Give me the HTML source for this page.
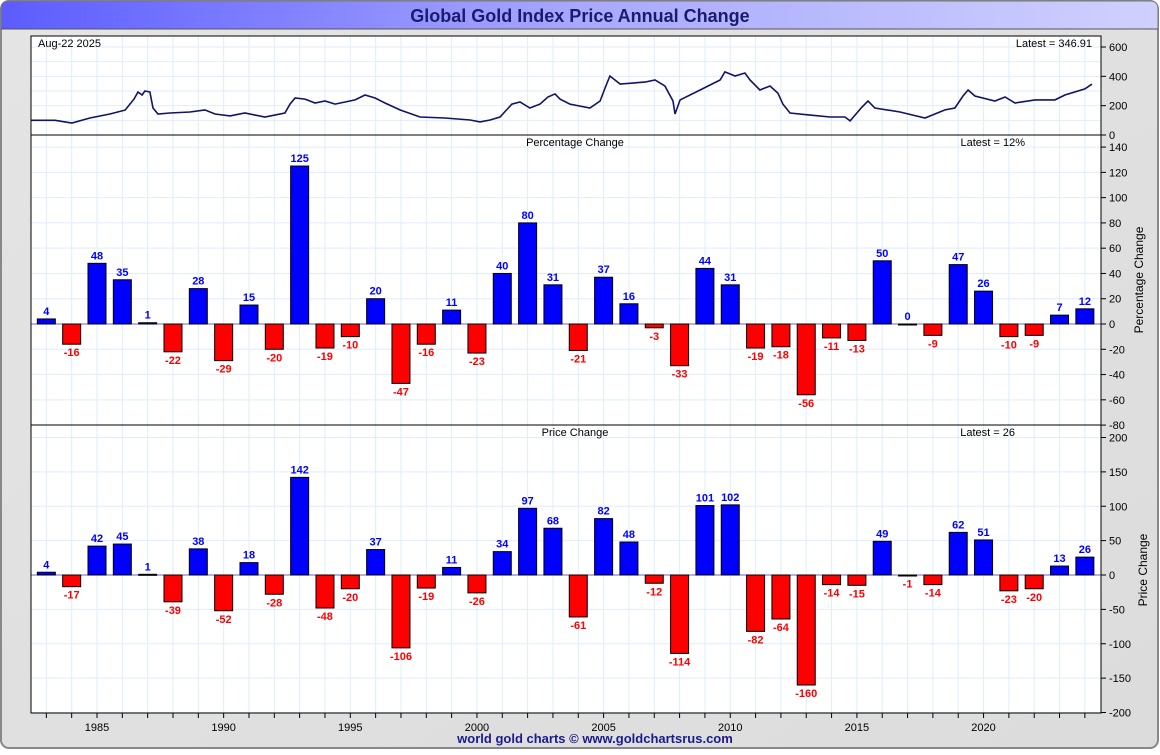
<!DOCTYPE html>
<html><head><meta charset="utf-8">
<style>
html,body{margin:0;padding:0;background:#fff;}
body{width:1160px;height:750px;overflow:hidden;font-family:"Liberation Sans",sans-serif;}
</style></head>
<body>
<svg id="chart" width="1160" height="750" xmlns="http://www.w3.org/2000/svg" font-family="Liberation Sans, sans-serif">
<defs>
<linearGradient id="tg" x1="0" x2="1" y1="0" y2="0"><stop offset="0" stop-color="#5c5cff"/><stop offset="0.5" stop-color="#a8a8ff"/><stop offset="1" stop-color="#d0d0ff"/></linearGradient>
<linearGradient id="bg" x1="0" x2="1" y1="0" y2="1"><stop offset="0" stop-color="#e4e4e4"/><stop offset="1" stop-color="#dcdcdc"/></linearGradient>
</defs>
<rect x="1" y="1" width="1157" height="747" rx="8" fill="url(#bg)" stroke="#888" stroke-width="2"/>
<path d="M1,29 V9 Q1,1 9,1 H1150 Q1158,1 1158,9 V29 Z" fill="url(#tg)" stroke="#777"/>
<line x1="1" y1="29" x2="1158" y2="29" stroke="#555"/>
<text x="580" y="22" text-anchor="middle" font-size="18" font-weight="bold" fill="#1a1a6e">Global Gold Index Price Annual Change</text>
<rect x="31" y="36" width="1070" height="677" fill="#fff"/>
<g id="g"></g>
<rect x="31" y="36" width="1070" height="677" fill="none" stroke="#000"/>
<text x="595" y="743" text-anchor="middle" font-size="13" font-weight="bold" fill="#1a1a8e">world gold charts © www.goldchartsrus.com</text>
</svg>
<script>
const years=[1983,1984,1985,1986,1987,1988,1989,1990,1991,1992,1993,1994,1995,1996,1997,1998,1999,2000,2001,2002,2003,2004,2005,2006,2007,2008,2009,2010,2011,2012,2013,2014,2015,2016,2017,2018,2019,2020,2021,2022,2023,2024];
const pctValues=[4,-16,48,35,1,-22,28,-29,15,-20,125,-19,-10,20,-47,-16,11,-23,40,80,31,-21,37,16,-3,-33,44,31,-19,-18,-56,-11,-13,50,0,-9,47,26,-10,-9,7,12];
const priceValues=[4,-17,42,45,1,-39,38,-52,18,-28,142,-48,-20,37,-106,-19,11,-26,34,97,68,-61,82,48,-12,-114,101,102,-82,-64,-160,-14,-15,49,-1,-14,62,51,-23,-20,13,26];
const xTickLabels=[1985,1990,1995,2000,2005,2010,2015,2020];
const topTicks=[0,200,400,600];
const pctTicks=[-80,-60,-40,-20,0,20,40,60,80,100,120,140];
const priceTicks=[-200,-150,-100,-50,0,50,100,150,200];
const lineDates=[1982.39,1983.34,1984.01,1984.72,1985.51,1986.11,1986.46,1986.62,1986.78,1986.89,1987.09,1987.21,1987.41,1987.88,1988.67,1989.26,1989.66,1990.25,1990.84,1991.63,1992.42,1992.62,1992.82,1993.21,1993.61,1994.0,1994.4,1995.19,1995.58,1995.98,1996.37,1996.96,1997.75,1998.74,1999.73,2000.12,2000.52,2000.91,2001.38,2001.70,2002.09,2002.49,2002.8,2003.08,2003.28,2003.67,2004.46,2004.86,2005.06,2005.25,2005.65,2006.63,2007.03,2007.42,2007.74,2007.82,2008.02,2008.81,2009.6,2009.79,2010.19,2010.58,2010.78,2011.17,2011.57,2011.88,2012.08,2012.36,2013.15,2013.94,2014.53,2014.73,2015.2,2015.44,2015.71,2016.70,2017.69,2018.48,2018.87,2019.19,2019.39,2019.66,2020.45,2020.85,2021.24,2022.03,2022.82,2023.21,2024.0,2024.28];
const lineValues=[100,100,82,116,143,170,245,293,273,300,293,184,143,150,157,171,143,130,150,123,150,211,252,245,218,232,211,239,273,252,218,171,123,116,102,89,102,123,211,225,184,211,259,280,245,211,184,232,321,402,348,361,375,334,232,143,239,307,375,430,402,423,375,307,334,286,211,150,136,123,123,96,191,232,184,157,116,171,184,266,307,266,232,259,218,239,239,273,314,347];

const NS="http://www.w3.org/2000/svg";
const g=document.getElementById('g');
function el(t,a,p){const e=document.createElementNS(NS,t);for(const k in a)e.setAttribute(k,a[k]);(p||g).appendChild(e);return e;}
const X=y=>97+(y-1985)*25.33;
const L=31,R=1101;
const panels=[
 {top:36,bot:135,min:0,max:600,y0:135,scale:88/600},
 {top:135,bot:425,min:-80,max:140,y0:324,scale:278/220},
 {top:425,bot:713,min:-200,max:200,y0:575,scale:275/400}
];
const Yt=v=>135-v*panels[0].scale;
const Yp=v=>324-v*panels[1].scale;
const Yq=v=>575-v*panels[2].scale;

// vertical grid
for(let yr=1982;yr<=2025;yr++){const x=X(yr);if(x<=L||x>=R)continue;
 const l=el('line',{x1:x,y1:36,x2:x,y2:713,stroke:'#ddeefa','stroke-width':1});
 
 el('line',{x1:x,y1:713,x2:x,y2:718,stroke:'#000'});}
// horizontal grids
for(let v=100;v<700;v+=100){const y=Yt(v);if(y>36)el('line',{x1:L,y1:y,x2:R,y2:y,stroke:'#ddeefa'});}
for(const v of pctTicks){el('line',{x1:L,y1:Yp(v),x2:R,y2:Yp(v),stroke:'#ddeefa'});}
for(const v of priceTicks){el('line',{x1:L,y1:Yq(v),x2:R,y2:Yq(v),stroke:'#ddeefa'});}
// panel separators
el('line',{x1:L,y1:135,x2:R,y2:135,stroke:'#000'});
el('line',{x1:L,y1:425,x2:R,y2:425,stroke:'#000'});
// zero lines
el('line',{x1:L,y1:Yp(0),x2:R,y2:Yp(0),stroke:'#6666cc'});
el('line',{x1:L,y1:Yq(0),x2:R,y2:Yq(0),stroke:'#6666cc'});

function ticks(arr,Yf,name){arr.forEach(v=>{const y=Yf(v);
 el('line',{x1:R,y1:y,x2:R+5,y2:y,stroke:'#000'});
 const t=el('text',{x:R+8,y:y+4,'font-size':11,fill:'#000'});t.textContent=v;
 });}
ticks(topTicks,Yt,'top-y-tick');ticks(pctTicks,Yp,'pct-y-tick');ticks(priceTicks,Yq,'price-y-tick');

xTickLabels.forEach(yr=>{const t=el('text',{x:X(yr),y:731,'font-size':11,'text-anchor':'middle'});t.textContent=yr;
 });

// top line
let d='';lineDates.forEach((t,i)=>{d+=(i?'L':'M')+X(t).toFixed(1)+','+Yt(lineValues[i]).toFixed(1);});
const pl=el('path',{d:d,fill:'none',stroke:'#121266','stroke-width':1.6});


function bars(vals,Yf,name){vals.forEach((v,i)=>{const x=X(years[i]);const y=Yf(v),y0=Yf(0);
 const r=el('rect',{x:x-9,y:Math.min(y,y0),width:18,height:Math.max(Math.abs(y0-y),1),fill:v>=0?'#0000ff':'#ff0000',stroke:'#000','stroke-width':1});
 
 const t=el('text',{x:x,y:v>=0?y-4:y+12,'text-anchor':'middle','font-size':11,'font-weight':'bold',fill:v>=0?'#0000ff':'#ff0000'});
 t.textContent=v;});}
bars(pctValues,Yp,'pct-change');bars(priceValues,Yq,'price-change');

function txt(x,y,s,name,extra){const t=el('text',Object.assign({x:x,y:y,'font-size':11},extra||{}));t.textContent=s;return t;}
txt(38,47,'Aug-22  2025','date-label');
txt(1092,47,'Latest = 346.91','top-latest-label',{'text-anchor':'end'});
txt(575,146,'Percentage Change','pct-panel-title',{'text-anchor':'middle'});
txt(1025,146,'Latest = 12%','pct-latest-label',{'text-anchor':'end'});
txt(575,436,'Price Change','price-panel-title',{'text-anchor':'middle'});
txt(1015,436,'Latest = 26','price-latest-label',{'text-anchor':'end'});
txt(1143,280,'Percentage Change','pct-y-axis-title',{'text-anchor':'middle','font-size':12,transform:'rotate(-90 1143 280)'});
txt(1147,570,'Price Change','price-y-axis-title',{'text-anchor':'middle','font-size':12,transform:'rotate(-90 1147 570)'});
</script>
</body></html>
